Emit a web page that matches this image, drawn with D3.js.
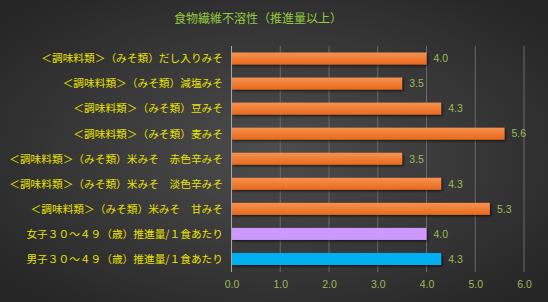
<!DOCTYPE html>
<html>
<head>
<meta charset="utf-8">
<script src="https://cdn.jsdelivr.net/npm/d3@7"></script>
<style>
  html, body { margin: 0; padding: 0; background: #2b2b2b; }
  svg { display: block; }
</style>
</head>
<body>
<div id="chart"></div>
<script>
// Chart data
const categories = [
    '＜調味料類＞（みそ類）だし入りみそ',
    '＜調味料類＞（みそ類）減塩みそ',
    '＜調味料類＞（みそ類）豆みそ',
    '＜調味料類＞（みそ類）麦みそ',
    '＜調味料類＞（みそ類）米みそ　赤色辛みそ',
    '＜調味料類＞（みそ類）米みそ　淡色辛みそ',
    '＜調味料類＞（みそ類）米みそ　甘みそ',
    '女子３０～４９（歳）推進量/１食あたり',
    '男子３０～４９（歳）推進量/１食あたり'
];
const values = [4.0, 3.5, 4.3, 5.6, 3.5, 4.3, 5.3, 4.0, 4.3];
const barColors = ['orange', 'orange', 'orange', 'orange', 'orange', 'orange', 'orange', '#cc99ff', '#00b0f0'];
const tickValues = [0, 1, 2, 3, 4, 5, 6];
const title = '食物繊維不溶性（推進量以上）';

const W = 548, H = 302;
const margin = { top: 46, right: 24, bottom: 31, left: 231.5 };

const svg = d3.select('#chart')
    .append('svg')
    .attr('width', W)
    .attr('height', H);

const defs = svg.append('defs');

// background: radial dark gradient
const bg = defs.append('radialGradient')
    .attr('id', 'bg')
    .attr('cx', '50%').attr('cy', '50%').attr('r', '65%');
bg.append('stop').attr('offset', '0%').attr('stop-color', '#4d4d4d');
bg.append('stop').attr('offset', '100%').attr('stop-color', '#262626');

// orange bar gradient
const og = defs.append('linearGradient')
    .attr('id', 'orange')
    .attr('x1', 0).attr('y1', 0).attr('x2', 0).attr('y2', 1);
og.append('stop').attr('offset', '0%').attr('stop-color', '#f79250');
og.append('stop').attr('offset', '100%').attr('stop-color', '#e8691c');

const shadow = defs.append('filter')
    .attr('id', 'shadow')
    .attr('x', '-5%').attr('y', '-30%').attr('width', '110%').attr('height', '170%');
shadow.append('feDropShadow')
    .attr('dx', 1.5).attr('dy', 1.5)
    .attr('stdDeviation', 1)
    .attr('flood-color', '#000')
    .attr('flood-opacity', 0.6);

svg.append('rect')
    .attr('width', W)
    .attr('height', H)
    .attr('fill', 'url(#bg)');

// Scales
const x = d3.scaleLinear()
    .domain([0, 6])
    .range([margin.left, margin.left + 292.5]);

const y = d3.scaleBand()
    .domain(categories)
    .range([margin.top, H - margin.bottom + 0.5])
    .paddingInner(0.52)
    .paddingOuter(0.26);

// Title
svg.append('text')
    .attr('x', 258)
    .attr('y', 23)
    .attr('text-anchor', 'middle')
    .attr('fill', '#92c83e')
    .style('font-family', '"Noto Sans CJK JP", sans-serif')
    .style('font-size', '12px')
    .text(title);

// Gridlines
svg.append('g')
    .selectAll('line')
    .data(tickValues.slice(1))
    .enter()
    .append('line')
    .attr('x1', d => x(d))
    .attr('x2', d => x(d))
    .attr('y1', margin.top)
    .attr('y2', H - margin.bottom + 1)
    .attr('stroke', '#6a6a6a')
    .attr('stroke-width', 1);

// Bars
svg.append('g')
    .selectAll('rect')
    .data(categories)
    .enter()
    .append('rect')
    .attr('x', x(0))
    .attr('y', d => y(d))
    .attr('width', (d, i) => x(values[i]) - x(0))
    .attr('height', y.bandwidth())
    .attr('fill', (d, i) => barColors[i] === 'orange' ? 'url(#orange)' : barColors[i])
    .attr('filter', 'url(#shadow)');

// Value axis line at 0
svg.append('line')
    .attr('x1', x(0)).attr('x2', x(0))
    .attr('y1', margin.top)
    .attr('y2', H - margin.bottom + 1)
    .attr('stroke', '#a6a6a6')
    .attr('stroke-width', 1);

// Value labels
svg.append('g')
    .selectAll('text')
    .data(categories)
    .enter()
    .append('text')
    .attr('x', (d, i) => x(values[i]) + 7)
    .attr('y', d => y(d) + y.bandwidth() / 2)
    .attr('dy', '0.36em')
    .attr('fill', '#9bbb59')
    .style('font-family', '"Liberation Sans", Arial, sans-serif')
    .style('font-size', '10.5px')
    .text((d, i) => values[i].toFixed(1));

// Category labels
svg.append('g')
    .selectAll('text')
    .data(categories)
    .enter()
    .append('text')
    .attr('x', 223)
    .attr('y', d => y(d) + y.bandwidth() / 2)
    .attr('dy', '0.36em')
    .attr('text-anchor', 'end')
    .attr('fill', '#e8e000')
    .style('font-family', '"Noto Sans CJK JP", sans-serif')
    .style('font-size', '10.7px')
    .text(d => d);

// X axis
const xAxis = d3.axisBottom(x)
    .tickValues(tickValues)
    .tickFormat(d3.format('.1f'))
    .tickSize(0)
    .tickPadding(0);

const axisG = svg.append('g')
    .attr('transform', `translate(0, ${H - margin.bottom + 10})`)
    .call(xAxis);
axisG.select('.domain').remove();
axisG.selectAll('text')
    .attr('fill', '#9bbb59')
    .style('font-family', '"Liberation Sans", Arial, sans-serif')
    .style('font-size', '10.5px');
</script>
</body>
</html>
